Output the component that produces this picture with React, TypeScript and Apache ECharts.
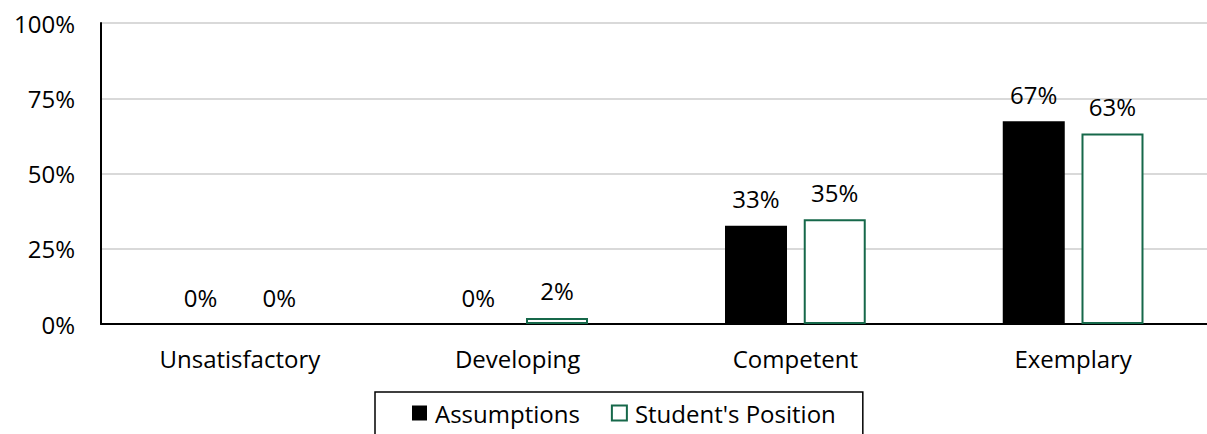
import React, { useEffect, useRef } from "react";
import * as echarts from "echarts";

const categories = ["Unsatisfactory", "Developing", "Competent", "Exemplary"];
const assumptions = [0, 0, 32.6, 67.4];
const studentsPosition = [0, 2, 34.8, 63.3];
const yTicks = [0, 25, 50, 75, 100];

const FONT = "'Open Sans', sans-serif";
const GREEN = "#16684a";
const FS = 24;

const toData = (arr: number[]) =>
  arr.map((v) => (v === 0 ? { value: v, itemStyle: { borderWidth: 0, color: "rgba(0,0,0,0)" } } : { value: v }));

export default function App() {
  const ref = useRef<HTMLDivElement>(null);
  useEffect(() => {
    if (!ref.current) return;
    const chart = echarts.init(ref.current, null, { renderer: "svg" });
    const label = {
      show: true,
      position: "top",
      distance: 15,
      color: "#000",
      fontSize: FS,
      fontFamily: FONT,
      formatter: (p: any) => Math.round(p.value) + "%",
    };
    chart.setOption({
      animation: false,
      grid: { left: 101, top: 23, right: 3, bottom: 110, containLabel: false },
      legend: {
        left: 375,
        top: 392,
        padding: [9, 27, 24, 37],
        borderColor: "#000",
        borderWidth: 1.5,
        itemWidth: 15,
        itemHeight: 15,
        itemGap: 31,
        icon: "rect",
        textStyle: { fontSize: FS, fontFamily: FONT, color: "#000", padding: [0, 0, 0, 3] },
        data: ["Assumptions", "Student's Position"],
      },
      xAxis: {
        type: "category",
        data: categories,
        axisLine: { lineStyle: { color: "#000", width: 2 } },
        axisTick: { show: false },
        axisLabel: { fontSize: FS, fontFamily: FONT, color: "#000", margin: 22 },
      },
      yAxis: {
        type: "value",
        min: 0,
        max: 100,
        interval: 25,
        axisLine: { show: true, lineStyle: { color: "#000", width: 2 } },
        axisTick: { show: false },
        splitLine: { lineStyle: { color: "#d9d9d9", width: 2 } },
        axisLabel: {
          fontSize: FS,
          fontFamily: FONT,
          color: "#000",
          margin: 26,
          formatter: (v: number) => (yTicks.includes(v) ? v + "%" : ""),
        },
      },
      series: [
        {
          name: "Assumptions",
          type: "bar",
          data: toData(assumptions),
          barWidth: 62,
          barGap: "27%",
          itemStyle: { color: "#000" },
          label,
        },
        {
          name: "Student's Position",
          type: "bar",
          data: toData(studentsPosition),
          barWidth: 62,
          barGap: "27%",
          itemStyle: { color: "#fff", borderColor: GREEN, borderWidth: 2 },
          label,
        },
      ],
    });
    return () => chart.dispose();
  }, []);
  return (
    <div style={{ position: "absolute", left: 0, top: 0, width: 1207, height: 434, overflow: "hidden" }}>
      <div ref={ref} style={{ width: 1215, height: 434 }} />
    </div>
  );
}
